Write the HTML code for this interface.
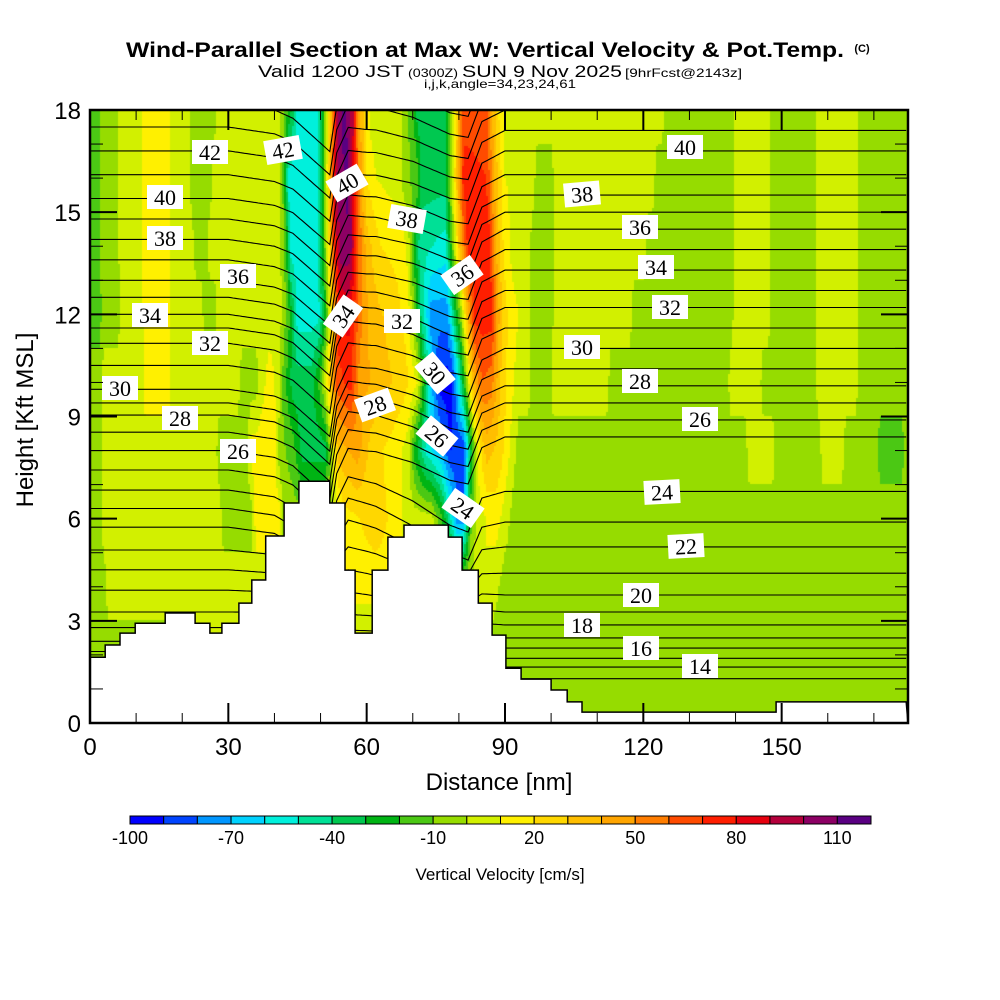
<!DOCTYPE html>
<html><head><meta charset="utf-8"><style>
html,body{margin:0;padding:0;background:#fff;}
#wrap{position:relative;width:1000px;height:1000px;overflow:hidden;background:#fff;}
canvas{position:absolute;left:90px;top:110px;}
svg{position:absolute;left:0;top:0;}
</style></head><body>
<div id="wrap">
<canvas id="field" width="818" height="613"></canvas>
<svg id="svg" width="1000" height="1000" font-family="'Liberation Sans', sans-serif"></svg>
</div>
<script>
// ---- data ----
const rowHeights = [0, 2, 4, 6, 8, 10, 12, 14, 16, 18];
const row0 = [[0,-5],[18,-5],[20,5],[40,5],[42,-5],[177,-5]];
const row2 = [[0,-5],[18,-5],[20,5],[40,5],[42,-5],[177,-5]];
const row4 = [[0,-5],[3,-5],[4,5],[40,5],[42,-5],[50,-5],[55,15],[65,15],[70,5],[80,-5],[86,10],[90,-5],[177,-5]];
const row6 = [[0,-5],[2,-5],[3,5],[28,5],[29,-5],[35,-5],[36,15],[41,15],[42,-5],[52,-5],[55,15],[62,25],[67,15],[68,5],[74,5],[76,-15],[78,-45],[79.5,-75],[81,-75],[82.5,-15],[84,5],[88,15],[92,-5],[177,-5]];
const row8 = [[0,-5],[2,-5],[3,5],[27,5],[28,-5],[34,-5],[35,15],[40,15],[41,-5],[44,-15],[46,-35],[51,-35],[52.5,5],[54,35],[58,45],[61,25],[66,15],[69,5],[70.5,-25],[73,-55],[76,-70],[78,-90],[81,-90],[82.5,-35],[84,10],[86,35],[89,25],[91,10],[93,-5],[142,-5],[143,5],[148,5],[149,-5],[158,-5],[159,5],[163,5],[164,-5],[170,-5],[171.5,-15],[176,-15],[177,-5]];
const row10 = [[0,-5],[2,-5],[3,5],[11,5],[12,15],[17,15],[18,5],[32,5],[33,-5],[36,-5],[37,5],[39,15],[41,5],[42,-15],[44,-35],[48,-35],[50,-15],[52,25],[53.5,65],[56.5,75],[58.5,45],[63,35],[68,25],[71,10],[72.5,-25],[74.5,-75],[76,-95],[78.5,-95],[80,-55],[81.5,-10],[83,35],[85,60],[87,55],[89,30],[91,15],[93,5],[95,5],[96,-5],[99.5,-5],[100.5,5],[112,5],[113,-5],[138,-5],[139,5],[145,5],[146,-5],[157,-5],[158,5],[166,5],[167,-5],[177,-5]];
const row12 = [[0,-15],[2,-15],[3,-5],[6,-5],[7,5],[11,5],[12,15],[17,15],[18,5],[24,5],[25,-5],[27,-5],[28,5],[41,5],[43,-15],[45,-55],[49.5,-55],[51,-25],[52.5,25],[54,75],[56,85],[58.5,55],[61,35],[66,25],[69,15],[70.5,-15],[72,-45],[74,-75],[77.5,-75],[79,-35],[80.5,-5],[82,40],[83.5,75],[87,75],[89,35],[91,15],[95,5],[96,-5],[100,-5],[101,5],[117,5],[118,-5],[139,-5],[140,5],[147,5],[148,-5],[157,-5],[158,5],[166,5],[167,-5],[177,-5]];
const row14 = [[0,-15],[2,-15],[2.5,-5],[6,-5],[6.5,5],[11,5],[11.5,15],[17,15],[17.5,5],[22,5],[23,-5],[25,-5],[26,5],[41,5],[42.5,-15],[43.5,-55],[49,-55],[50.5,-25],[52,25],[53,75],[54.5,110],[56.5,105],[58,65],[60,35],[63,20],[68,15],[69,5],[70,-15],[71.5,-45],[77,-55],[78.5,-15],[80,30],[82,75],[86.5,75],[88,40],[90,15],[92,5],[95,5],[96,-5],[100,-5],[101,5],[120,5],[121,-5],[139,-5],[140,5],[147,5],[148,-5],[157,-5],[158,5],[166,5],[167,-5],[177,-5]];
const row16 = [[0,-15],[2,-15],[2.5,-5],[6,-5],[6.5,5],[11,5],[11.5,15],[17,15],[17.5,5],[21.5,5],[22,-5],[26,-5],[27,5],[41,5],[42,-15],[43,-55],[49,-55],[50.5,-25],[51.5,15],[52.5,55],[53.5,100],[56,115],[57,85],[58.5,45],[60,20],[62,10],[67,5],[68,-5],[71,-15],[72,-35],[77,-35],[78,-10],[79.5,30],[81,75],[86,70],[88,35],[90,10],[96,5],[97,-5],[100,-5],[101,5],[122,5],[123,-5],[139,-5],[140,5],[147,5],[148,-5],[157,-5],[158,5],[166,5],[167,-5],[177,-5]];
const row18 = [[0,-15],[2,-15],[2.5,-5],[6,-5],[6.5,5],[11,5],[11.5,15],[17,15],[17.5,5],[21.5,5],[22,-5],[27,-5],[27.5,5],[41,5],[42.5,-15],[44,-35],[45,-55],[49.5,-55],[50.5,-25],[51.5,10],[52.5,45],[53.5,95],[55,115],[57,95],[58,55],[59.5,25],[61,5],[67,5],[68,-5],[70,-15],[71,-35],[77,-35],[78,-15],[79,10],[80,40],[81,65],[86,65],[87.5,35],[89,15],[91,5],[124,5],[125,-5],[139,-5],[140,5],[147,5],[148,-5],[157,-5],[158,5],[166,5],[167,-5],[177,-5]];
const rows = [row0,row2,row4,row6,row8,row10,row12,row14,row16,row18];

const thetaLevels = [13,14,15,16,17,18,19,20,21,22,23,24,25,26,27,28,29,30,31,32,33,34,35,36,37,38,39,40,41,42,43,44];
const thetaLeft  = [1.5,1.8,2.1,2.4,2.8,3.26,3.9,4.5,5.08,5.75,6.3,6.84,7.43,8.0,8.54,9.04,9.4,9.8,10.5,11.15,11.6,12.0,12.5,13.0,13.6,14.2,14.8,15.4,16.1,16.8,17.5,18.2];
const thetaRight = [1.3,1.64,1.9,2.2,2.5,2.88,3.26,3.76,4.4,5.17,5.9,6.8,8.4,8.9,9.4,9.9,10.4,11.0,11.6,12.2,12.7,13.3,13.9,14.5,15.0,15.5,16.1,16.8,17.4,18.0,18.6,19.2];
const blendX = [0,40,60,90,177];
const blendW = [0,0,0.3,1,1];
const waveX  = [0,30,40,44,52,53.5,56,62,70,78,82,85,90,177];
const waveDz = [0,0,-0.2,-0.5,-1.6,-0.3,0.4,0.2,-0.3,-1.0,-1.2,-0.2,0,0];

const terrainX = [0,3.3,3.3,6.5,6.5,9.8,9.8,16.3,16.3,22.8,22.8,26.0,26.0,28.6,28.6,32.3,32.3,35.1,35.1,38.1,38.1,42.1,42.1,45.3,45.3,52.0,52.0,55.3,55.3,57.5,57.5,61.2,61.2,64.6,64.6,68.1,68.1,77.7,77.7,80.7,80.7,84.2,84.2,87.2,87.2,90.2,90.2,93.5,93.5,100.0,100.0,103.5,103.5,106.7,106.7,148.8,148.8,177];
const terrainH = [1.93,1.93,2.29,2.29,2.64,2.64,2.93,2.93,3.23,3.23,2.93,2.93,2.64,2.64,2.93,2.93,3.52,3.52,4.2,4.2,5.49,5.49,6.46,6.46,7.1,7.1,6.46,6.46,4.49,4.49,2.64,2.64,4.49,4.49,5.46,5.46,5.81,5.81,5.46,5.46,4.49,4.49,3.52,3.52,2.58,2.58,1.61,1.61,1.29,1.29,0.97,0.97,0.62,0.62,0.32,0.32,0.62,0.62];

const cbColors = ['#0000ff','#0044ff','#0096ff','#00d2ff','#00f0dc','#00e096','#00c850','#00b414','#4bc814','#96dc00','#d2f000','#fff000','#ffd700','#ffbe00','#ffa500','#ff7d00','#ff4b00','#ff1e00','#e6000f','#b4003c','#8c0064','#5a0082'];
const cbTicks = [-100,-70,-40,-10,20,50,80,110];
const xTicks = [0,30,60,90,120,150];
const yTicks = [0,3,6,9,12,15,18];

const labelsTheta = [
 ['42',210,152,0],['42',283,150,-10],['40',165,197,0],['38',165,238,0],['36',238,276,0],['34',150,315,0],['32',210,343,0],['30',120,388,0],['28',180,418,0],['26',238,451,0],
 ['40',347,183,-30],['38',407,219,10],['36',462,275,-35],['34',343,316,-55],['32',402,321,0],['30',435,373,50],['28',375,405,-20],['26',437,436,40],['24',463,508,35],
 ['40',685,147,0],['38',582,194,-5],['36',640,227,0],['34',656,267,0],['32',670,307,0],['30',582,347,0],['28',640,381,0],['26',700,419,0],['24',662,492,-3],['22',686,546,-3],['20',641,595,0],['18',582,625,0],['16',641,648,0],['14',700,666,0]
];

// ---- axes ----
const PL=90, PR=908, PT=110, PB=723, XMAX=177.4, YMAX=18;
function sx(x){return PL+(x/XMAX)*(PR-PL);}
function sy(h){return PB-(h/YMAX)*(PB-PT);}
function lerpArr(xs,ys,x){
  if(x<=xs[0])return ys[0];
  for(let i=1;i<xs.length;i++){if(x<=xs[i]){const t=(x-xs[i-1])/((xs[i]-xs[i-1])||1);return ys[i-1]+t*(ys[i]-ys[i-1]);}}
  return ys[ys.length-1];
}
function rowVal(row,x){
  if(x<=row[0][0])return row[0][1];
  for(let i=1;i<row.length;i++){if(x<=row[i][0]){const a=row[i-1],b=row[i];const t=(x-a[0])/((b[0]-a[0])||1);return a[1]+t*(b[1]-a[1]);}}
  return row[row.length-1][1];
}
function colorOf(v){let i=Math.floor((v+100)/10);if(i<0)i=0;if(i>21)i=21;return cbColors[i];}

// ---- field ----
const cv=document.getElementById('field');const ctx=cv.getContext('2d');
const W=818,H=613,B=2;
for(let px=0;px<W;px+=B){
  const x=(px+B/2)/W*XMAX;
  const rv=rows.map(r=>rowVal(r,x));
  for(let py=0;py<H;py+=B){
    const h=(H-(py+B/2))/H*YMAX;
    const v=lerpArr(rowHeights,rv,h);
    ctx.fillStyle=colorOf(v);ctx.fillRect(px,py,B,B);
  }
}

// ---- svg ----
const NS='http://www.w3.org/2000/svg';
const svg=document.getElementById('svg');
function mk(tag,attrs,parent){const e=document.createElementNS(NS,tag);for(const k in attrs)e.setAttribute(k,attrs[k]);(parent||svg).appendChild(e);return e;}
const defs=mk('defs',{});
const cp=mk('clipPath',{id:'plotclip'},defs);mk('rect',{x:PL,y:PT,width:PR-PL,height:PB-PT},cp);

// isentropes
const gl=mk('g',{'clip-path':'url(#plotclip)'});


thetaLevels.forEach((lev,i)=>{
  let d='';
  for(let x=0;x<=XMAX;x+=0.5){
    const w=lerpArr(blendX,blendW,x);
    const base=thetaLeft[i]*(1-w)+thetaRight[i]*w;
    const amp=Math.max(0,Math.min(1,(base-3)/3));
    const h=base+lerpArr(waveX,waveDz,x)*amp;
    d+=(x===0?'M':'L')+sx(x).toFixed(1)+','+sy(h).toFixed(1);
  }
  const p=mk('path',{d:d,fill:'none',stroke:'#000','stroke-width':1.1},gl);
  
  
});

// terrain
let td='M'+sx(0)+','+sy(0);
terrainX.forEach((x,i)=>{td+='L'+sx(x).toFixed(1)+','+sy(terrainH[i]).toFixed(1);});
td+='L'+sx(XMAX)+','+sy(0)+'Z';
const terr=mk('path',{d:td,fill:'#fff',stroke:'#000','stroke-width':1.5});



// contour labels
labelsTheta.forEach(l=>{
  const g=mk('g',{transform:`translate(${l[1]},${l[2]}) rotate(${l[3]})`});
  
  
  mk('rect',{x:-18,y:-12,width:36,height:24,fill:'#fff'},g);
  const t=mk('text',{x:0,y:8,'text-anchor':'middle','font-family':"'Liberation Serif', serif",'font-size':22},g);t.textContent=l[0];
});

// frame and ticks
const ax=mk('g',{});


for(let x=0;x<=170;x+=10){
  const major=(x%30===0);const len=major?20:10;
  mk('line',{x1:sx(x),x2:sx(x),y1:PB,y2:PB-len,stroke:'#000','stroke-width':major?2:1},ax);
  mk('line',{x1:sx(x),x2:sx(x),y1:PT,y2:PT+len,stroke:'#000','stroke-width':major?2:1},ax);
}
for(let h=0;h<=18;h++){
  const major=(h%3===0);const len=major?27:13;
  mk('line',{x1:PL,x2:PL+len,y1:sy(h),y2:sy(h),stroke:'#000','stroke-width':major?2:1},ax);
  mk('line',{x1:PR,x2:PR-len,y1:sy(h),y2:sy(h),stroke:'#000','stroke-width':major?2:1},ax);
}
mk('rect',{x:PL,y:PT,width:PR-PL,height:PB-PT,fill:'none',stroke:'#000','stroke-width':2.5},ax);
xTicks.forEach(v=>{const t=mk('text',{x:sx(v),y:755,'text-anchor':'middle','font-size':24},ax);t.textContent=v;
  
  });
yTicks.forEach(v=>{const t=mk('text',{x:81,y:sy(v)+9,'text-anchor':'end','font-size':24},ax);t.textContent=v;
  
  });

// colorbar
const cb=mk('g',{});


const cbL=130,cbR=871,cbW=(cbR-cbL)/cbColors.length;
cbColors.forEach((c,i)=>{const r=mk('rect',{x:cbL+i*cbW,y:816,width:cbW,height:8,fill:c,stroke:'#000','stroke-width':1},cb);
  
  });
cbTicks.forEach(v=>{const t=mk('text',{x:cbL+(v+100)/10*cbW,y:844,'text-anchor':'middle','font-size':18},cb);t.textContent=v;
  
  });
</script>
<svg width="1000" height="1000" style="position:absolute;left:0;top:0" font-family="'Liberation Sans', sans-serif">
<text x="126" y="57" font-size="21" font-weight="bold" textLength="718" lengthAdjust="spacingAndGlyphs">Wind-Parallel Section at Max W: Vertical Velocity &amp; Pot.Temp.</text>
<text x="862" y="52" font-size="11" font-weight="bold" text-anchor="middle">(C)</text>
<text x="258" y="77" font-size="17" textLength="146" lengthAdjust="spacingAndGlyphs">Valid 1200 JST</text>
<text x="408" y="77" font-size="12" textLength="50" lengthAdjust="spacingAndGlyphs">(0300Z)</text>
<text x="462" y="77" font-size="17" textLength="160" lengthAdjust="spacingAndGlyphs">SUN 9 Nov 2025</text>
<text x="625" y="77" font-size="12" textLength="117" lengthAdjust="spacingAndGlyphs">[9hrFcst@2143z]</text>
<text x="424" y="88" font-size="12" textLength="152" lengthAdjust="spacingAndGlyphs">i,j,k,angle=34,23,24,61</text>
<text x="499" y="790" font-size="24" text-anchor="middle">Distance [nm]</text>
<text transform="translate(33,420) rotate(-90)" font-size="24" text-anchor="middle">Height [Kft MSL]</text>
<text x="500" y="880" font-size="17" text-anchor="middle">Vertical Velocity [cm/s]</text>
</svg>
</body></html>
